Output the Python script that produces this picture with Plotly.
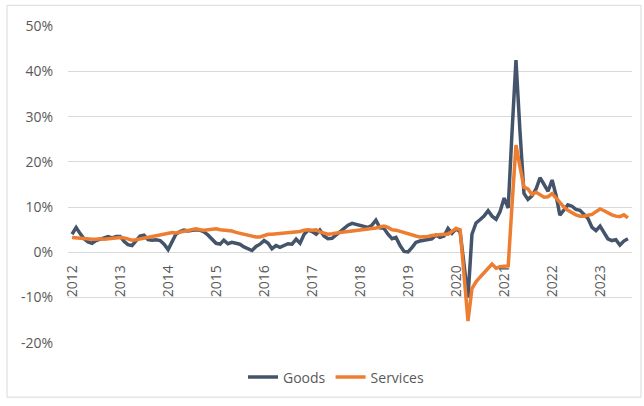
import pandas as pd
import plotly.graph_objects as go

# Monthly year-over-year change, Jan 2012 - Aug 2023 (percent)
goods = [
    # 2012
    4.0, 5.5, 4.2, 3.0, 2.3, 2.0, 2.6, 3.0, 3.2, 3.5, 3.2, 3.5,
    # 2013
    3.5, 2.4, 1.7, 1.5, 2.6, 3.6, 3.8, 2.8, 2.7, 2.8, 2.6, 1.8,
    # 2014
    0.6, 2.4, 4.0, 4.6, 4.9, 4.7, 4.9, 5.0, 4.9, 4.5, 3.8, 3.0,
    # 2015
    2.0, 1.8, 2.7, 1.9, 2.2, 2.0, 1.8, 1.2, 0.8, 0.4, 1.3, 1.8,
    # 2016
    2.6, 2.0, 0.8, 1.5, 1.1, 1.6, 1.9, 1.8, 2.9, 2.0, 4.0, 4.9,
    # 2017
    4.6, 4.0, 4.9, 3.6, 3.0, 3.1, 3.8, 4.6, 5.2, 6.0, 6.4, 6.2,
    # 2018
    6.0, 5.7, 5.5, 6.0, 7.1, 5.4, 5.3, 4.0, 3.0, 3.3, 1.5, 0.2,
    # 2019
    0.1, 1.1, 2.2, 2.5, 2.7, 2.8, 3.0, 3.8, 3.3, 3.6, 5.3, 4.2,
    # 2020
    5.2, 4.5, -3.0, -10.0, 4.0, 6.5, 7.2, 8.0, 9.2, 8.0, 7.3, 9.0,
    # 2021
    12.0, 9.8, 26.0, 42.5, 27.0, 13.0, 11.7, 12.5, 14.0, 16.5, 15.0, 13.5,
    # 2022
    16.0, 12.5, 8.2, 9.5, 10.5, 10.2, 9.5, 9.3, 8.5, 7.5, 5.5, 4.8,
    # 2023
    5.8, 4.2, 3.0, 2.6, 2.8, 1.6, 2.5, 3.0,
]

services = [
    # 2012
    3.3, 3.2, 3.1, 3.0, 2.9, 2.9, 2.9, 3.0, 2.9, 3.0, 3.1, 3.2,
    # 2013
    3.3, 3.2, 3.0, 2.7, 2.8, 3.0, 3.2, 3.3, 3.5, 3.7, 4.0, 4.1,
    # 2014
    4.2, 4.4, 4.3, 4.5, 4.8, 4.9, 5.1, 5.2, 5.0, 4.9, 5.0, 5.1,
    # 2015
    5.2, 5.0, 4.9, 4.9, 4.7, 4.4, 4.2, 4.0, 3.8, 3.6, 3.4, 3.4,
    # 2016
    3.7, 4.0, 4.0, 4.1, 4.2, 4.2, 4.3, 4.4, 4.5, 4.6, 4.9, 5.0,
    # 2017
    4.9, 5.0, 4.5, 4.2, 4.0, 4.1, 4.3, 4.4, 4.5, 4.6, 4.7, 4.8,
    # 2018
    4.9, 5.0, 5.1, 5.2, 5.4, 5.6, 5.8, 5.5, 5.0, 4.9, 4.6, 4.3,
    # 2019
    4.0, 3.8, 3.6, 3.4, 3.4, 3.5, 3.7, 3.8, 4.0, 4.0, 4.0, 4.6,
    # 2020
    5.3, 5.0, -5.0, -15.2, -8.0, -6.5, -5.5, -4.5, -3.3, -2.6, -3.5, -3.2,
    # 2021
    -3.1, -3.0, 10.0, 23.7, 19.0, 14.4, 14.0, 12.8, 13.3, 12.8, 12.2, 12.3,
    # 2022
    13.0, 12.0, 11.0, 10.0, 9.3, 8.7, 8.3, 8.0, 8.0, 8.2, 8.4, 9.0,
    # 2023
    9.6, 9.2, 8.7, 8.3, 8.0, 7.9, 8.3, 7.6,
]

years = list(range(2012, 2024))
y_ticks = [-20, -10, 0, 10, 20, 30, 40, 50]
y_labels = [f"{v}%" for v in y_ticks]

months = pd.date_range("2012-01-01", periods=len(goods), freq="MS")

GOODS_COLOR = "#44546A"
SERVICES_COLOR = "#ED7D31"
TEXT_COLOR = "#595959"
GRID_COLOR = "#D9D9D9"
FONT = "Open Sans, Noto Sans, sans-serif"

W, H = 644, 406
ML, MR, MT, MB = 68, 12, 26, 58
y_lo, y_hi = -20.05, 50.05

fig = go.Figure()
fig.add_trace(go.Scatter(x=months, y=goods, name="Goods", mode="lines",
                         line=dict(color=GOODS_COLOR, width=3.5)))
fig.add_trace(go.Scatter(x=months, y=services, name="Services", mode="lines",
                         line=dict(color=SERVICES_COLOR, width=3.5)))

plot_w = W - ML - MR
plot_h = H - MT - MB

def px_to_paper_x(px):
    return (px - ML) / plot_w

def px_to_paper_y(py):
    return (H - MB - py) / plot_h

# light frame around the whole chart
fig.add_shape(type="rect", xref="paper", yref="paper",
              x0=px_to_paper_x(7), x1=px_to_paper_x(641),
              y0=px_to_paper_y(403), y1=px_to_paper_y(5),
              line=dict(color=GRID_COLOR, width=1), fillcolor="rgba(0,0,0,0)",
              layer="below")

fig.update_layout(
    width=W, height=H,
    margin=dict(l=ML, r=MR, t=MT, b=MB),
    paper_bgcolor="white", plot_bgcolor="white",
    font=dict(family=FONT, size=14, color=TEXT_COLOR),
    showlegend=True,
    legend=dict(orientation="h", x=px_to_paper_x(336), xanchor="center",
                y=px_to_paper_y(383), yanchor="middle",
                font=dict(size=14, color=TEXT_COLOR),
                itemwidth=30, tracegroupgap=0, bgcolor="rgba(0,0,0,0)"),
    xaxis=dict(
        type="date",
        range=["2011-12-01", "2023-09-01"],
        tickvals=[pd.Timestamp(f"{y}-01-01") for y in years],
        ticktext=[str(y) for y in years],
        tickangle=-90,
        anchor="free",
        position=(0 - y_lo) / (y_hi - y_lo),
        showgrid=False, zeroline=False, showline=False,
        ticks="", ticklabelstandoff=9,
        tickfont=dict(size=14, color=TEXT_COLOR),
    ),
    yaxis=dict(
        range=[y_lo, y_hi],
        tickvals=y_ticks, ticktext=y_labels,
        showgrid=True, gridcolor=GRID_COLOR, gridwidth=1,
        zeroline=False, showline=False,
        ticks="", ticklabelstandoff=14,
        tickfont=dict(size=14, color=TEXT_COLOR),
    ),
)

fig.write_html("out.html")
